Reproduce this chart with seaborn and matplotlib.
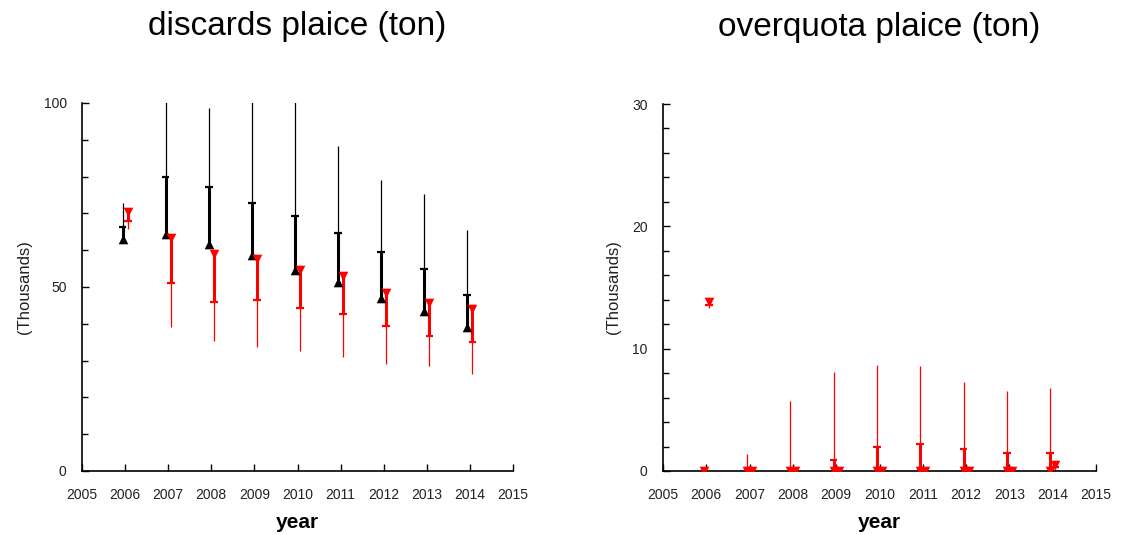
import numpy as np
import pandas as pd
import matplotlib
matplotlib.use("Agg")
import matplotlib.pyplot as plt
from matplotlib.ticker import MultipleLocator
import seaborn as sns

# ---------------- data ----------------
years = [2006, 2007, 2008, 2009, 2010, 2011, 2012, 2013, 2014]

# discards (thousand ton): black series (upward bars)
disc_black_mid = [63.0, 64.4, 61.7, 58.6, 54.6, 51.3, 46.9, 43.4, 39.2]
disc_black_q = [66.4, 80.0, 77.1, 72.8, 69.4, 64.8, 59.4, 54.8, 47.9]
disc_black_end = [72.8, 108.0, 98.6, 104.0, 112.0, 88.2, 79.0, 75.3, 65.4]
# discards: red series (downward bars)
disc_red_mid = [70.5, 63.3, 59.0, 57.7, 54.6, 53.0, 48.3, 45.6, 44.0]
disc_red_q = [67.8, 51.0, 45.9, 46.5, 44.2, 42.7, 39.4, 36.8, 35.0]
disc_red_end = [65.7, 39.1, 35.2, 33.6, 32.7, 31.1, 29.1, 28.6, 26.3]

# overquota (thousand ton): first series (upward bars)
oq_a_mid = [0.0, 0.0, 0.0, 0.0, 0.0, 0.0, 0.0, 0.0, 0.0]
oq_a_q = [0.0, 0.0, 0.0, 0.9, 1.96, 2.2, 1.77, 1.5, 1.5]
oq_a_end = [0.0, 1.4, 5.7, 8.1, 8.7, 8.6, 7.3, 6.56, 6.75]
# overquota: second series (downward bars)
oq_b_mid = [13.8, 0.0, 0.0, 0.0, 0.0, 0.0, 0.0, 0.0, 0.45]
oq_b_q = [13.6, 0.0, 0.0, 0.0, 0.0, 0.0, 0.0, 0.0, 0.3]
oq_b_end = [13.3, 0.0, 0.0, 0.0, 0.0, 0.0, 0.0, 0.0, 0.0]

titles = ["discards plaice (ton)", "overquota plaice (ton)"]
x_ticks = list(range(2005, 2016))

# ---------------- style ----------------
sns.set_style("ticks")
plt.rcParams["font.family"] = ["Liberation Sans", "DejaVu Sans"]
plt.rcParams["text.color"] = "black"

fig = plt.figure(figsize=(11.21, 5.35), dpi=100)
ax1 = fig.add_axes([82 / 1121, 64 / 535, 431 / 1121, 368 / 535])
ax2 = fig.add_axes([663 / 1121, 64 / 535, 433 / 1121, 367 / 535])

OFF = 0.06
CAP = 0.09


def draw_series(ax, mid, q, end, offset, color, marker):
    x = np.array(years, dtype=float) + offset
    df = pd.DataFrame({"x": x, "mid": mid})
    ax.vlines(x, mid, q, color=color, lw=2.2, zorder=2)
    ax.vlines(x, q, end, color=color, lw=0.9, zorder=2)
    caps = [i for i in range(len(x)) if abs(q[i] - mid[i]) > 1e-9]
    ax.hlines([q[i] for i in caps], [x[i] - CAP for i in caps],
              [x[i] + CAP for i in caps], color=color, lw=1.6, zorder=2)
    sns.scatterplot(data=df, x="x", y="mid", ax=ax, color=color,
                    marker=marker, s=48, linewidth=0, zorder=3, legend=False)


draw_series(ax1, disc_black_mid, disc_black_q, disc_black_end, -OFF, "black", "^")
draw_series(ax1, disc_red_mid, disc_red_q, disc_red_end, OFF, "red", "v")
draw_series(ax2, oq_a_mid, oq_a_q, oq_a_end, -OFF, "red", "v")
draw_series(ax2, oq_b_mid, oq_b_q, oq_b_end, OFF, "red", "v")

for ax, title, ymax, major, minor in [(ax1, titles[0], 100, 50, 10),
                                       (ax2, titles[1], 30, 10, 2)]:
    ax.set_xlim(2005, 2015)
    ax.set_ylim(0, ymax)
    ax.set_xticks(x_ticks)
    ax.set_xticklabels([str(t) for t in x_ticks])
    ax.yaxis.set_major_locator(MultipleLocator(major))
    ax.yaxis.set_minor_locator(MultipleLocator(minor))
    ax.tick_params(axis="both", which="both", direction="in", labelsize=10,
                   width=1, color="black", labelcolor="#222222")
    ax.tick_params(axis="x", which="major", length=5, pad=12)
    ax.tick_params(axis="y", which="major", length=5, pad=11)
    ax.tick_params(axis="y", which="minor", length=4)
    sns.despine(ax=ax)
    for sp in ("left", "bottom"):
        ax.spines[sp].set_linewidth(1.2)
        ax.spines[sp].set_color("black")
    ax.set_title(title, fontsize=24, pad=49, color="black")
    ax.set_xlabel("year", fontsize=15, fontweight="bold", labelpad=8,
                  color="black")
    ax.set_ylabel("(Thousands)", fontsize=12, labelpad=8, color="#222222")

fig.savefig("out.png", dpi=100)
